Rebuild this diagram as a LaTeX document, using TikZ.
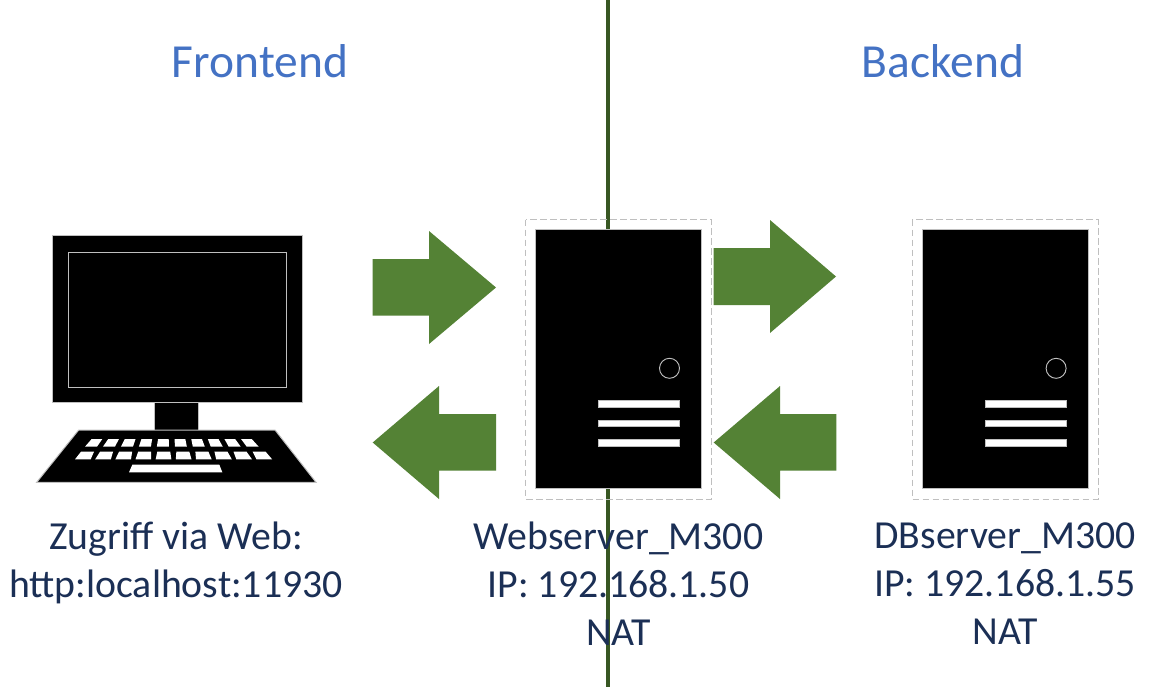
\documentclass[tikz,border=0pt]{standalone}
\usepackage{fontspec}
\setmainfont{Carlito}
\definecolor{arrowgreen}{HTML}{548235}
\definecolor{linegreen}{HTML}{385723}
\definecolor{headblue}{HTML}{4472C4}
\definecolor{labelnavy}{HTML}{1B2F55}
\definecolor{edgegray}{HTML}{BFBFBF}
\tikzset{
  device/.style={fill=black,draw=edgegray,line width=0.75pt},
  whitepart/.style={fill=white,draw=edgegray,line width=0.4pt},
  blockarrow/.style={fill=arrowgreen,draw=none},
  heading/.style={text=headblue,font=\fontsize{35.6}{42}\selectfont,inner sep=0pt,anchor=center},
  caption/.style={text=labelnavy,font=\fontsize{29.8}{36}\selectfont,align=center,inner sep=0pt,anchor=north},
}
\begin{document}
\begin{tikzpicture}[x=0.75pt,y=-0.75pt]
\useasboundingbox (0,0) rectangle (1159,687);
\fill[white] (0,0) rectangle (1159,687);
% divider
\coordinate (divtop) at (607.8,0);
\coordinate (divbot) at (607.8,687);
\draw[linegreen,line width=3pt] (divtop) -- (divbot);
% headings
\node[heading] (front) at (260,61) {Frontend};
\node[heading] (back) at (943,61) {Backend};
% computer
\draw[device] (52.3,235.3) rectangle (302.3,402.3);
\draw[edgegray,line width=0.6pt] (68.3,252.3) rectangle (286.7,387.3);
\draw[device] (154.7,402.3) rectangle (198.3,430);
\draw[device] (78.7,430) -- (275,430) -- (316,482.3) -- (36.7,482.3) -- cycle;
\begin{scope}[shift={(20,220)},x=0.25pt,y=-0.25pt]
  \foreach \i in {0,...,9} {
    \fill[white] ({195+53.9*\i},680) -- ({215+49.8*\i},657) -- ({247+49.8*\i},657) -- ({231+53.9*\i},680) -- cycle;
    \fill[white] ({165+60.5*\i},718) -- ({183+57.2*\i},695) -- ({222+57.2*\i},695) -- ({212+60.5*\i},718) -- cycle;
  }
  \fill[white] (327,757) -- (337,734) -- (598,734) -- (607,757) -- cycle;
\end{scope}
% servers
\foreach \dx in {0,386.6} {
  \begin{scope}[shift={(\dx*0.75pt,0)}]
    \draw[edgegray,line width=0.6pt,dash pattern=on 5pt off 2.5pt] (525.5,219.5) rectangle (711.5,499);
    \draw[device] (535.5,229.5) rectangle (701.7,488.5);
    \draw[edgegray,line width=0.7pt] (669.5,368.3) circle[radius=10];
    \draw[whitepart] (598.5,400.3) rectangle (679.5,407);
    \draw[whitepart] (598.5,420) rectangle (679.5,426.5);
    \draw[whitepart] (598.5,439.5) rectangle (679.5,446.5);
  \end{scope}
}
% block arrows
\fill[blockarrow] (372.7,259) -- (429,259) -- (429,231) -- (496,287.5) -- (429,344) -- (429,315.5) -- (372.7,315.5) -- cycle;
\fill[blockarrow] (713.7,248) -- (770,248) -- (770,220) -- (836,276.5) -- (770,333) -- (770,305) -- (713.7,305) -- cycle;
\fill[blockarrow] (496,414) -- (439,414) -- (439,386) -- (372.7,442.5) -- (439,499) -- (439,470.5) -- (496,470.5) -- cycle;
\fill[blockarrow] (836.3,414) -- (780,414) -- (780,386) -- (713.7,442.5) -- (780,499) -- (780,470.5) -- (836.3,470.5) -- cycle;
% captions
\node[caption] (lclient) at (176,522) {Zugriff via Web:\\http:localhost:11930};
\node[caption] (lweb) at (618.5,522) {Webserver\_M300\\IP: 192.168.1.50\\NAT};
\node[caption] (ldb) at (1005,522) {DBserver\_M300\\IP: 192.168.1.55\\NAT};
\end{tikzpicture}
\end{document}
